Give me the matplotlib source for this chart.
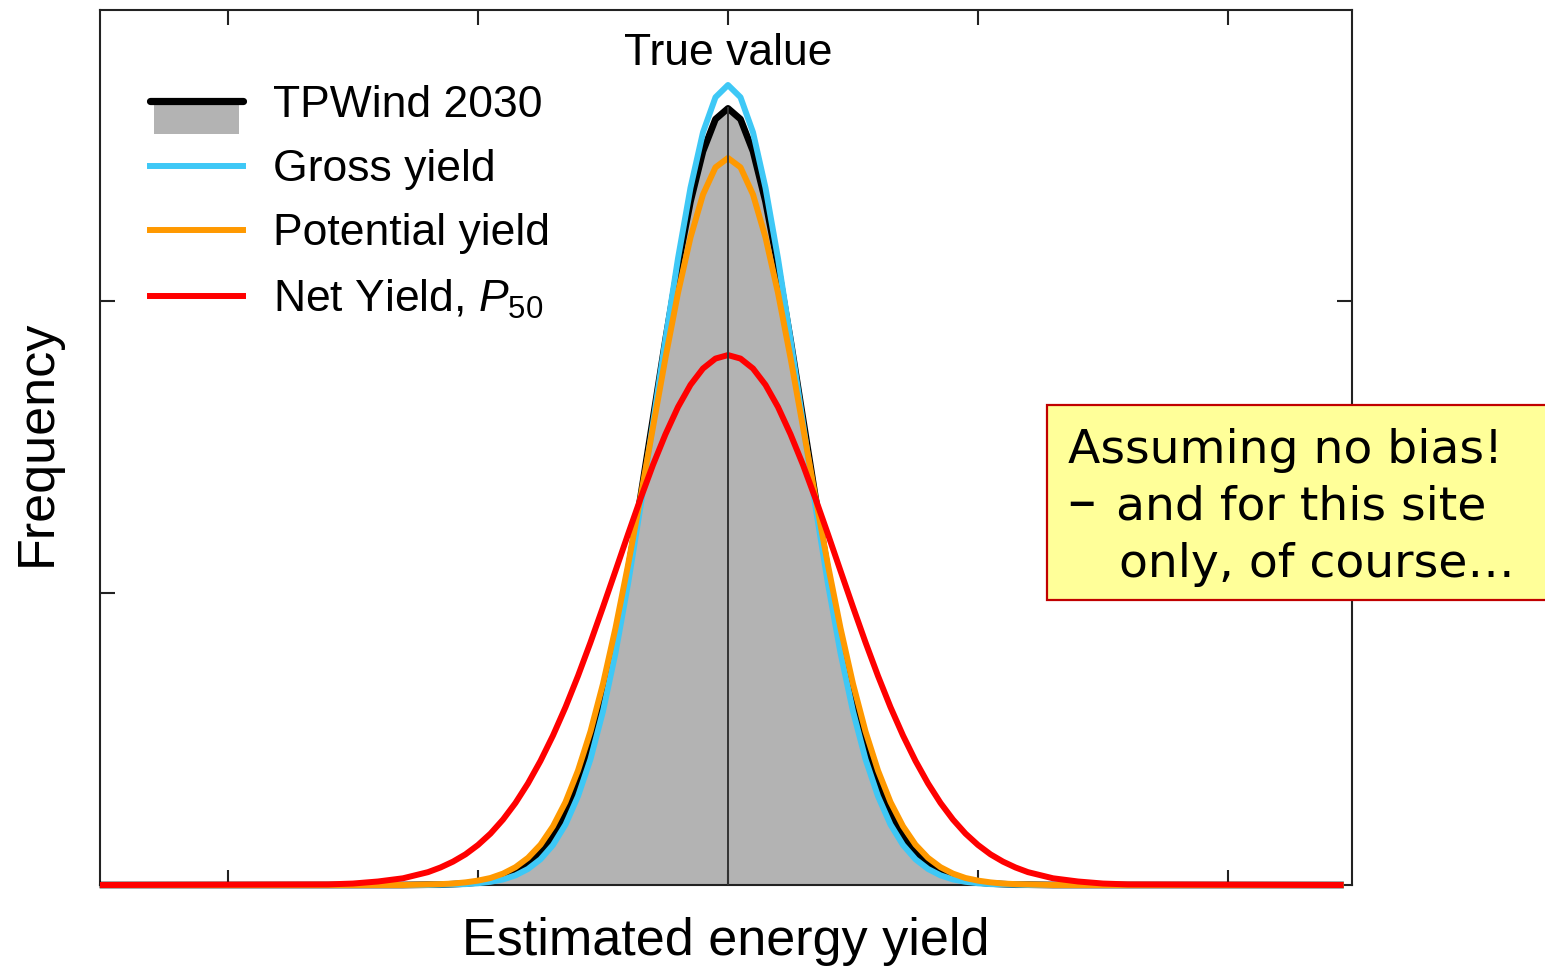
import matplotlib
matplotlib.use("Agg")
import matplotlib.pyplot as plt
from matplotlib.legend_handler import HandlerBase
from matplotlib.lines import Line2D
from matplotlib.patches import Rectangle

plt.rcParams["font.family"] = ["Liberation Sans", "DejaVu Sans"]
plt.rcParams["mathtext.fontset"] = "custom"
plt.rcParams["mathtext.rm"] = "Liberation Sans"
plt.rcParams["mathtext.it"] = "Liberation Sans:italic"

# estimated energy yield (arbitrary units, true value at 0)
x = [-2.5, -1.6, -1.5, -1.4, -1.3, -1.2, -1.15, -1.1, -1.05, -1.0,
     -0.95, -0.9, -0.85, -0.8, -0.75, -0.7, -0.65, -0.6, -0.55, -0.5,
     -0.45, -0.4, -0.35, -0.3, -0.25, -0.2, -0.15, -0.1, -0.05,
     0.0,
     0.05, 0.1, 0.15, 0.2, 0.25, 0.3, 0.35, 0.4, 0.45,
     0.5, 0.55, 0.6, 0.65, 0.7, 0.75, 0.8, 0.85, 0.9, 0.95,
     1.0, 1.05, 1.1, 1.15, 1.2, 1.3, 1.4, 1.5, 1.6, 2.45]

tpwind = [0, 0, 0, 0, 0, 0.001, 0.001, 0.003, 0.005, 0.009,
          0.016, 0.027, 0.044, 0.071, 0.110, 0.165, 0.243, 0.346, 0.479, 0.645,
          0.844, 1.074, 1.328, 1.597, 1.867, 2.120, 2.341, 2.513, 2.623,
          2.66,
          2.623, 2.513, 2.341, 2.120, 1.867, 1.597, 1.328, 1.074, 0.844,
          0.645, 0.479, 0.346, 0.243, 0.165, 0.110, 0.071, 0.044, 0.027, 0.016,
          0.009, 0.005, 0.003, 0.001, 0.001, 0, 0, 0, 0, 0]

gross = [0, 0, 0, 0, 0, 0, 0.001, 0.002, 0.003, 0.006,
         0.011, 0.019, 0.033, 0.055, 0.088, 0.137, 0.207, 0.304, 0.431, 0.595,
         0.795, 1.031, 1.296, 1.581, 1.870, 2.146, 2.388, 2.578, 2.698,
         2.74,
         2.698, 2.578, 2.388, 2.146, 1.870, 1.581, 1.296, 1.031, 0.795,
         0.595, 0.431, 0.304, 0.207, 0.137, 0.088, 0.055, 0.033, 0.019, 0.011,
         0.006, 0.003, 0.002, 0.001, 0, 0, 0, 0, 0, 0]

potential = [0, 0, 0, 0, 0, 0.002, 0.003, 0.005, 0.009, 0.015,
             0.024, 0.039, 0.061, 0.093, 0.138, 0.201, 0.284, 0.392, 0.526, 0.689,
             0.880, 1.095, 1.327, 1.568, 1.806, 2.028, 2.218, 2.365, 2.458,
             2.49,
             2.458, 2.365, 2.218, 2.028, 1.806, 1.568, 1.327, 1.095, 0.880,
             0.689, 0.526, 0.392, 0.284, 0.201, 0.138, 0.093, 0.061, 0.039, 0.024,
             0.015, 0.009, 0.005, 0.003, 0.002, 0, 0, 0, 0, 0]

net = [0, 0.002, 0.005, 0.012, 0.023, 0.044, 0.060, 0.080, 0.105, 0.137,
       0.176, 0.224, 0.281, 0.348, 0.425, 0.512, 0.609, 0.716, 0.831, 0.952,
       1.076, 1.201, 1.323, 1.439, 1.544, 1.637, 1.713, 1.769, 1.803,
       1.815,
       1.803, 1.769, 1.713, 1.637, 1.544, 1.439, 1.323, 1.201, 1.076,
       0.952, 0.831, 0.716, 0.609, 0.512, 0.425, 0.348, 0.281, 0.224, 0.176,
       0.137, 0.105, 0.080, 0.060, 0.044, 0.023, 0.012, 0.005, 0.002, 0]

true_value = 0.0

GRAY = "#b3b3b3"
CYAN = "#3ec8f6"
ORANGE = "#ff9900"
RED = "#ff0000"
LW = 4.3


class ShadedLineHandler(HandlerBase):
    def create_artists(self, legend, orig_handle, xdescent, ydescent,
                       width, height, fontsize, trans):
        mid = height / 2 - ydescent
        rect = Rectangle((-xdescent + 0.04 * width, mid - 1.05 * height),
                         0.92 * width, 1.05 * height, fc=GRAY, ec="none",
                         transform=trans)
        line = Line2D([-xdescent, width - xdescent], [mid, mid], color="k",
                      lw=5.2, solid_capstyle="round", transform=trans)
        return [rect, line]


fig = plt.figure(figsize=(15.45, 9.67), dpi=100)
ax = fig.add_axes([0.0647, 0.0848, 0.8104, 0.9049])

ax.fill_between(x, tpwind, color=GRAY, lw=0, zorder=1)
ax.plot(x, tpwind, color="k", lw=4.8, zorder=3, clip_on=False)
ax.plot(x, gross, color=CYAN, lw=LW, zorder=4, clip_on=False)
ax.plot(x, potential, color=ORANGE, lw=LW, zorder=5, clip_on=False)
ax.plot(x, net, color=RED, lw=LW, zorder=6, clip_on=False)
ax.plot([true_value, true_value], [0, max(tpwind)], color="#333333", lw=1.4, zorder=7)

ax.text(true_value, 2.808, "True value", ha="center", va="baseline", fontsize=32)

ax.set_xlim(-2.512, 2.496)
ax.set_ylim(0, 2.997)
ax.set_xticks([-2, -1, 0, 1, 2])
ax.set_yticks([1, 2])
ax.tick_params(direction="in", length=11, width=1.5, top=True, right=True,
               labelbottom=False, labelleft=False, color="#222222")
for sp in ax.spines.values():
    sp.set_linewidth(1.5)
    sp.set_color("#222222")

ax.set_xlabel("Estimated energy yield", fontsize=37.5)
ax.xaxis.label.set_va("baseline")
ax.xaxis.set_label_coords(0.5, -0.08)
ax.set_ylabel("Frequency", fontsize=37.5)
ax.yaxis.label.set_va("baseline")
ax.yaxis.set_label_coords(-0.039, 0.505)

handles = [object(),
           Line2D([], [], color=CYAN, lw=LW),
           Line2D([], [], color=ORANGE, lw=LW),
           Line2D([], [], color=RED, lw=LW)]
labels = ["TPWind 2030", "Gross yield", "Potential yield", r"Net Yield, $\mathit{P}_{50}$"]
ax.legend(handles, labels, handler_map={object: ShadedLineHandler()},
          loc="upper left", bbox_to_anchor=(150 / 1545, 1 - 85 / 967),
          bbox_transform=fig.transFigure, frameon=False, fontsize=32,
          borderpad=0, borderaxespad=0, handlelength=2.09, handletextpad=0.68,
          labelspacing=0.52)

# note box, running off the right edge
fig.add_artist(Rectangle((1047 / 1545, 1 - 600 / 967), 560 / 1545, 195 / 967,
                         transform=fig.transFigure, fc="#ffff99", ec="#c00000",
                         lw=1.6, zorder=10))
note_kw = dict(fontsize=34, family="DejaVu Sans", va="baseline", zorder=11)
fig.text(1068 / 1545, 1 - 463 / 967, "Assuming no bias!", **note_kw)
fig.text(1067 / 1545, 1 - 520 / 967, "\u2013",
         **{**note_kw, "fontsize": 41})
fig.text(1116 / 1545, 1 - 520 / 967, "and for this site", **note_kw)
fig.text(1119 / 1545, 1 - 577 / 967, "only, of course\u2026", **note_kw)

fig.savefig("out.png", dpi=100)
